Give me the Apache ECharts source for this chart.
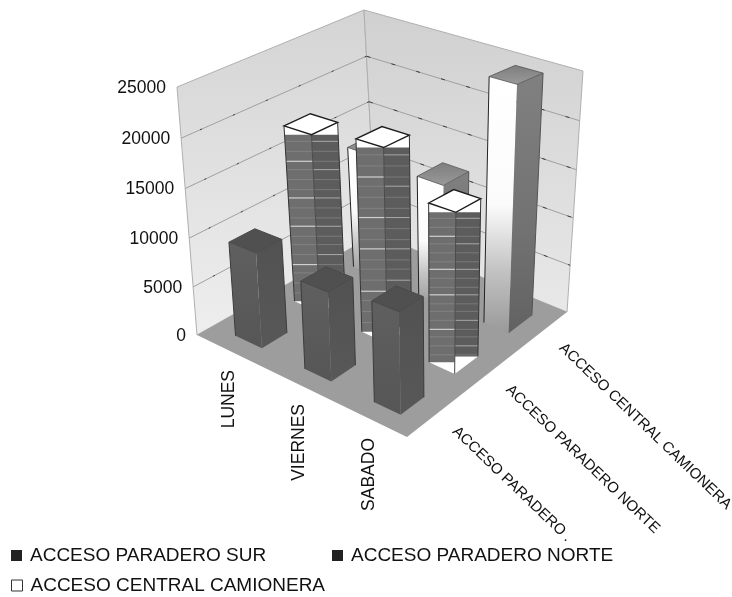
<!DOCTYPE html>
<html><head><meta charset="utf-8">
<style>html,body{margin:0;padding:0;background:#fff}#c{width:732px;height:597px}</style>
<script src="https://cdn.jsdelivr.net/npm/echarts@6/dist/echarts.min.js"></script>
</head><body><div id="c"></div>
<script>
const days = ['LUNES', 'VIERNES', 'SABADO'];
const seriesNames = ['ACCESO PARADERO SUR', 'ACCESO PARADERO NORTE', 'ACCESO CENTRAL CAMIONERA'];
const depthLabels = ['ACCESO PARADERO .', 'ACCESO PARADERO NORTE', 'ACCESO CENTRAL CAMIONERA'];
const paraderoSur = [9600, 8600, 9450];
const paraderoNorte = [18400, 19400, 15500];
const centralCamionera = [13100, 12600, 24900];
const yTicks = [0, 5000, 10000, 15000, 20000, 25000];
const stripeRows = [0.04,0.1,0.16,0.21,0.27,0.33,0.38,0.44,0.5,0.55,0.61,0.66,0.72,0.78,0.83,0.89,0.95];
const brightRows = [2,6,9,13];

// box corners in pixels (perspective frame of the 3D chart)
const FL=[197,335],FF=[407,437],FR=[567,312],FB=[376,234];
const TL=[177,87],TF=[402,149],TR=[583,71],TB=[364,10];
const GS=300, FONT='"Liberation Sans",Arial,sans-serif';
function bil(a,b,c,d,x,y){ // a(0,0) b(1,0) c(1,1) d(0,1)
  return [0,1].map(i=>a[i]*(1-x)*(1-y)+b[i]*x*(1-y)+c[i]*x*y+d[i]*(1-x)*y);
}
function P(x,y,z){
  const zz=z/(1+0.04*(1-z));
  const f=bil(FL,FF,FR,FB,x,y), t=bil(TL,TF,TR,TB,x,y);
  return [f[0]+(t[0]-f[0])*zz, f[1]+(t[1]-f[1])*zz];
}
const lg=(stops)=>new echarts.graphic.LinearGradient(0,0,0,1,stops.map((c,i)=>({offset:c[0],color:c[1]})));
function poly(points,fill,stroke,lw){
  return {type:'polygon',shape:{points},style:{fill,stroke:stroke||null,lineWidth:lw||0}};
}
function line(a,b,stroke,lw,dash){
  return {type:'line',shape:{x1:a[0],y1:a[1],x2:b[0],y2:b[1]},style:{stroke,lineWidth:lw||1,lineDash:dash||null}};
}
function atY(a,b,y){const t=(y-a[1])/(b[1]-a[1]);return [a[0]+(b[0]-a[0])*t,y];}

function norm(api){
  const c=api.coord([api.value(0),api.value(1)]);
  return {u:c[0]/GS,z:1-c[1]/GS,cell:api.size([1,0])[0]/GS};
}
function barRender(row,kind){
  return function(params,api){
    const {u,z,cell}=norm(api);
    const v=(row+0.5)*cell, hx=cell*0.19, hy=cell*0.215;
    const x0=u-hx,x1=u+hx,y0=v-hy,y1=v+hy;
    const bl=P(x0,y0,0),bf=P(x1,y0,0),br=P(x1,y1,0);
    const tl=P(x0,y0,z),tf=P(x1,y0,z),tr=P(x1,y1,z),tb=P(x0,y1,z);
    const ch=[];
    if(kind==='sur'){
      ch.push(poly([bl,bf,tf,tl],lg([[0,'#5f5f5f'],[1,'#565656']])));
      ch.push(poly([bf,br,tr,tf],lg([[0,'#525252'],[1,'#585858']])));
      ch.push(poly([tl,tf,tr,tb],'#505050','#4a4a4a',1));
      ch.push(line(tl,bl,'#3c3c3c',1));
      ch.push(line(tr,br,'#3c3c3c',1));
    } else if(kind==='norte'){
      ch.push(poly([bl,bf,tf,tl],'#ffffff'));
      ch.push(poly([bf,br,tr,tf],'#ffffff'));
      const yT=tf[1];
      const a=atY(bl,tl,yT),b=atY(bf,tf,yT),c=atY(bf,tf,bl[1]),d=bl.slice();
      const e=atY(br,tr,yT),f=atY(bf,tf,br[1]),g=br.slice();
      ch.push(poly([a,tf,c,d],'#6e6e6e'));
      ch.push(poly([tf,e,g,f],'#5c5c5c'));
      stripeRows.forEach((s,i)=>{
        const yy=yT+(bl[1]-yT)*s;
        const bright=brightRows.indexOf(i)>=0;
        const p1=atY(bl,tl,yy),p2=atY(bf,tf,yy);
        ch.push(line(p1,p2,bright?'#d0d0d0':'#828282',bright?1.2:1));
        if(yy<br[1]){const p3=atY(br,tr,yy);ch.push(line(p2,p3,i%3?'#7a7a7a':'#a8a8a8',1));}
      });
      ch.push(line(tf,bf,'#4a4a4a',1));
      ch.push(poly([tl,tf,tr,tb],'#ffffff','#1d1d1d',1.4));
      ch.push(line(tl,bl,'#333',1));
      ch.push(line(tr,br,'#333',1));
    } else {
      ch.push(poly([bl,bf,tf,tl],lg([[0,'#ffffff'],[0.5,'#fbfbfb'],[0.75,'#c4c4c4'],[1,'#999999']])));
      ch.push(poly([bf,br,tr,tf],lg([[0,'#808080'],[0.6,'#727272'],[1,'#626262']])));
      ch.push(poly([tl,tf,tr,tb],lg([[0,'#7d7d7d'],[1,'#9a9a9a']]),'#555',0.8));
      ch.push(line(tl,bl,'#222',1));
      ch.push(line(tr,br,'#555',1));
    }
    return {type:'group',children:ch};
  };
}
function roomRender(){
  const ch=[];
  ch.push(poly([FL,FB,TB,TL],lg([[0,'#d4d4d4'],[1,'#eeeeee']]),'#b0b0b0',1));
  ch.push(poly([FB,FR,TR,TB],lg([[0,'#d0d0d0'],[1,'#e8e8e8']]),'#b0b0b0',1));
  ch.push(poly([FL,FF,FR,FB],'#9d9d9d'));
  return {type:'group',children:ch};
}
function tickRender(params,api){
  const {z}=norm(api);
  const a=P(0,0,z),b=P(0,1,z),c=P(1,1,z);
  const ch=[];
  if(z>0&&z<1){
    ch.push(line(a,b,'#a0a0a0',1));ch.push(line(b,c,'#a0a0a0',1));
    ch.push(line(b,a,'#3c3c3c',1,[2,34]));ch.push(line(b,c,'#3c3c3c',1,[4,22]));
  }
  ch.push({type:'text',x:a[0]-11,y:a[1]+1,style:{text:String(yTicks[params.dataIndex]),textAlign:'right',textVerticalAlign:'middle',font:'17.5px '+FONT,fill:'#111'}});
  return {type:'group',children:ch};
}
function dayRender(params,api){
  const {u}=norm(api);
  const a=P(u,0,0);
  return {type:'text',x:a[0]-3,y:a[1]+18,rotation:Math.PI/2,style:{text:days[params.dataIndex],textAlign:'right',textVerticalAlign:'middle',font:'17.5px '+FONT,fill:'#111'}};
}
function depthRender(params,api){
  const a=P(1,(params.dataIndex+0.5)/3,0);
  return {type:'text',x:a[0]+21,y:a[1]+13,rotation:-0.765,style:{text:depthLabels[params.dataIndex],textAlign:'left',textVerticalAlign:'middle',font:'15px '+FONT,fill:'#111'}};
}
const custom=(name,renderItem,data,color)=>({type:'custom',name,renderItem,data,coordinateSystem:'cartesian2d',encode:{x:0,y:1},silent:true,animation:false,clip:false,itemStyle:color?{color}:undefined});
const toData=(vals)=>vals.map((v,i)=>[i,v]);

const chart=echarts.init(document.getElementById('c'),null,{renderer:'canvas'});
const legendItem=(name,left,top,style)=>({left,top,orient:'horizontal',data:[{name,icon:'rect',itemStyle:style}],itemWidth:11,itemHeight:11,itemGap:0,selectedMode:false,
  textStyle:{fontFamily:FONT,fontSize:19,color:'#111',padding:[0,0,0,3]}});
chart.setOption({
  animation:false,backgroundColor:'#fff',
  grid:{left:0,top:0,width:GS,height:GS,show:false},
  xAxis:{type:'category',data:days,show:false},
  yAxis:{type:'value',min:0,max:25000,interval:5000,show:false},
  legend:[
    legendItem(seriesNames[0],6,541,{color:'#222'}),
    legendItem(seriesNames[1],327,541,{color:'#222'}),
    legendItem(seriesNames[2],6,571,{color:'#fff',borderColor:'#333',borderWidth:1})
  ],
  series:[
    custom('room',roomRender,[[0,0]]),
    custom('ticks',tickRender,yTicks.map(v=>[0,v])),
    custom(seriesNames[2],barRender(2,'central'),toData(centralCamionera),'#ffffff'),
    custom(seriesNames[1],barRender(1,'norte'),toData(paraderoNorte),'#222'),
    custom(seriesNames[0],barRender(0,'sur'),toData(paraderoSur),'#222'),
    custom('days',dayRender,days.map((d,i)=>[i,0])),
    custom('depth',depthRender,depthLabels.map((d,i)=>[i,0]))
  ]
});
</script></body></html>
